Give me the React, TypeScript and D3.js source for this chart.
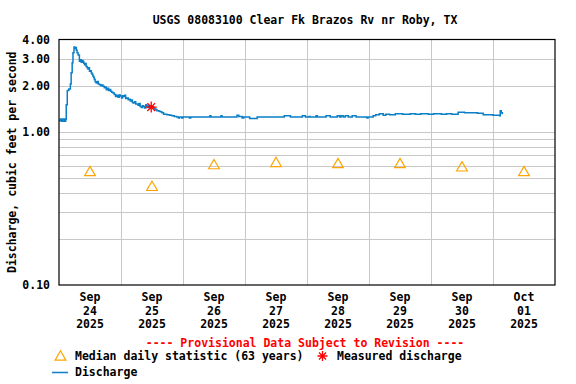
import React from "react";
import * as d3 from "d3";

const W = 576;
const H = 384;

// Discharge: hours since Sep 24 2025 00:00, and cfs values
const dischargeHours = [
  0, 0.5, 1.0, 1.6, 2.2, 2.6, 2.8, 3.2, 3.8, 4.4, 4.7, 5.1, 5.4, 5.8, 6.1, 6.3, 6.7, 7.0, 7.4, 7.9,
  8.3, 8.6, 9.0, 9.25, 9.6, 9.9, 10.2, 10.5, 10.9, 11.2, 11.5, 11.8, 12.2, 12.5, 12.8, 13.1, 13.4, 13.7, 14.0, 14.4,
  14.8, 15.2, 15.7, 16.2, 16.6, 17.0, 17.5, 17.9, 18.3, 18.8, 19.2, 19.6, 20.0, 20.4, 20.9, 21.4, 21.9, 22.4, 22.9, 23.3,
  23.7, 24.2, 24.6, 25.0, 25.4, 25.8, 26.3, 26.8, 27.2, 27.6, 28.0, 28.4, 28.8, 29.3, 29.7, 30.2, 30.6, 31.0, 31.4, 31.9,
  32.3, 32.7, 33.1, 33.6, 34.0, 34.4, 34.9, 35.3, 35.8, 36.2, 36.6, 37.0, 37.5, 37.9, 38.7, 39.2, 39.8, 40.5, 41.2, 41.8,
  42.8, 43.7, 44.6, 45.6, 46.2, 46.6, 47.5, 48.0, 49.0, 50.5, 51.0, 52, 56, 58.4, 58.8, 62.7, 63.1, 68.9, 69.6, 70.9,
  71.5, 73.8, 76.7, 80, 84, 87.2, 89.6, 94.2, 95.4, 96.8, 97.2, 99.5, 100, 103.4, 105, 107.7, 108.6, 109.2, 110, 110.8,
  112, 113.5, 115, 119.2, 119.6, 121.6, 122.6, 124, 125.5, 126.5, 128, 130.2, 133, 136, 138, 140, 143, 145, 148, 150,
  152, 154.5, 157, 160, 162, 164.2, 167, 168, 170.5, 170.8, 171.2, 171.6,
];
const dischargeValues = [
  1.18, 1.21, 1.17, 1.21, 1.17, 1.21, 1.5, 1.86, 1.9, 2.05, 2.43, 2.82, 3.28, 3.58, 3.5, 3.55, 3.4, 3.28, 3.17, 2.88,
  2.95, 2.84, 2.92, 2.87, 2.8, 2.74, 2.79, 2.67, 2.62, 2.57, 2.62, 2.48, 2.5, 2.42, 2.37, 2.31, 2.26, 2.19, 2.12, 2.08,
  2.13, 2.05, 2.03, 2.0, 2.02, 1.98, 1.94, 1.96, 1.88, 1.92, 1.86, 1.89, 1.84, 1.81, 1.79, 1.75, 1.7, 1.73, 1.68, 1.74,
  1.71, 1.66, 1.72, 1.7, 1.73, 1.65, 1.66, 1.62, 1.63, 1.59, 1.61, 1.55, 1.54, 1.57, 1.52, 1.52, 1.49, 1.53, 1.46, 1.44,
  1.48, 1.46, 1.43, 1.5, 1.48, 1.44, 1.47, 1.45, 1.44, 1.46, 1.43, 1.41, 1.39, 1.37, 1.36, 1.35, 1.33, 1.3, 1.3, 1.29,
  1.28, 1.27, 1.26, 1.25, 1.23, 1.25, 1.23, 1.25, 1.25, 1.23, 1.25, 1.25, 1.25, 1.27, 1.25, 1.27, 1.25, 1.28, 1.26, 1.23,
  1.25, 1.22, 1.25, 1.25, 1.25, 1.27, 1.25, 1.27, 1.25, 1.26, 1.25, 1.27, 1.25, 1.27, 1.25, 1.27, 1.25, 1.27, 1.25, 1.27,
  1.25, 1.27, 1.25, 1.23, 1.25, 1.27, 1.29, 1.31, 1.28, 1.3, 1.29, 1.31, 1.3, 1.31, 1.3, 1.31, 1.3, 1.31, 1.3, 1.31,
  1.3, 1.34, 1.33, 1.33, 1.32, 1.29, 1.29, 1.28, 1.27, 1.37, 1.33, 1.3,
];

// Median daily statistic, plotted at noon of each day
const medianHours = [12, 36, 60, 84, 108, 132, 156, 180];
const medianValues = [0.55, 0.44, 0.61, 0.63, 0.62, 0.62, 0.59, 0.55];

// Measured discharge
const measuredHours = [35.7];
const measuredValues = [1.45];

// Axis labels
const xMonths = ["Sep", "Sep", "Sep", "Sep", "Sep", "Sep", "Sep", "Oct"];
const xDays = ["24", "25", "26", "27", "28", "29", "30", "01"];
const xYears = ["2025", "2025", "2025", "2025", "2025", "2025", "2025", "2025"];
const yTickValues = [4, 3, 2, 1, 0.1];
const yTickLabels = ["4.00", "3.00", "2.00", "1.00", "0.10"];
const yGridValues = [0.2, 0.3, 0.4, 0.5, 0.6, 0.7, 0.8, 0.9, 1, 2, 3];
const dayBoundaries = [24, 48, 72, 96, 120, 144, 168];

const FONT = "'DejaVu Sans Mono', monospace";
const FS = 11.5;

export default function App() {
  const x0 = 59, x1 = 555, y0 = 39.5, y1 = 285;
  const x = d3.scaleLinear().domain([0, 192]).range([x0, x1]);
  const y = d3.scaleLog().domain([0.1, 4]).range([y1, y0]);

  const pts = dischargeHours.map((h, i) => [h, dischargeValues[i]] as [number, number]);
  const line = d3
    .line<[number, number]>()
    .x((d) => x(d[0]))
    .y((d) => y(d[1]))
    .curve(d3.curveStepAfter);

  const tri = d3.symbol().type(d3.symbolTriangle).size(50);

  const star = (cx: number, cy: number, r: number) => {
    const parts: string[] = [];
    for (let k = 0; k < 4; k++) {
      const a = (k * Math.PI) / 4;
      const dx = Math.cos(a) * r, dy = Math.sin(a) * r;
      parts.push(`M${cx - dx},${cy - dy}L${cx + dx},${cy + dy}`);
    }
    return parts.join("");
  };

  const textStyle = { fontFamily: FONT, fontWeight: "bold" as const, fontSize: FS };

  return (
    <svg width={W} height={H} style={{ position: "absolute", left: 0, top: 0, background: "#fff" }}>
      <rect x={0} y={0} width={W} height={H} fill="#fff" />
      <text x={305} y={24} textAnchor="middle" {...textStyle}>
        USGS 08083100 Clear Fk Brazos Rv nr Roby, TX
      </text>

      {/* grid */}
      {yGridValues.map((v) => (
        <line key={"hg" + v} x1={x0} x2={x1} y1={Math.round(y(v)) + 0.5} y2={Math.round(y(v)) + 0.5} stroke="#c8c8c8" strokeWidth={1} />
      ))}
      {dayBoundaries.map((h) => (
        <line key={"vg" + h} x1={Math.round(x(h)) + 0.5} x2={Math.round(x(h)) + 0.5} y1={y0} y2={y1} stroke="#c8c8c8" strokeWidth={1} />
      ))}

      {/* medians */}
      {medianHours.map((h, i) => (
        <path
          key={"m" + i}
          d={tri() as string}
          transform={`translate(${x(h)},${y(medianValues[i]) + 1})`}
          fill="none"
          stroke="#ffa500"
          strokeWidth={1.2}
        />
      ))}

      {/* discharge */}
      <path d={line(pts) as string} fill="none" stroke="#0a7fc8" strokeWidth={1.5} />

      {/* measured */}
      {measuredHours.map((h, i) => (
        <path key={"ms" + i} d={star(x(h), y(measuredValues[i]), 5.5)} stroke="#ff0000" strokeWidth={1.3} fill="none" />
      ))}

      {/* frame */}
      <rect x={x0} y={y0} width={x1 - x0} height={y1 - y0} fill="none" stroke="#000" strokeWidth={1.2} />

      {/* y labels */}
      {yTickValues.map((v, i) => (
        <text key={"yl" + i} x={50} y={y(v)} dy="0.35em" textAnchor="end" {...textStyle}>
          {yTickLabels[i]}
        </text>
      ))}
      <text
        transform={`translate(16,${(y0 + y1) / 2}) rotate(-90)`}
        textAnchor="middle"
        {...textStyle}
      >
        Discharge, cubic feet per second
      </text>

      {/* x labels */}
      {xMonths.map((m, i) => (
        <g key={"xl" + i} transform={`translate(${x(i * 24 + 12)},0)`}>
          <text y={301} textAnchor="middle" {...textStyle}>{m}</text>
          <text y={315} textAnchor="middle" {...textStyle}>{xDays[i]}</text>
          <text y={328} textAnchor="middle" {...textStyle}>{xYears[i]}</text>
        </g>
      ))}

      <text x={305} y={347} textAnchor="middle" {...textStyle} fill="#ff0000">
        ---- Provisional Data Subject to Revision ----
      </text>

      {/* legend */}
      <path d={tri() as string} transform="translate(60.5,357)" fill="none" stroke="#ffa500" strokeWidth={1.2} />
      <text x={75} y={360} {...textStyle}>Median daily statistic (63 years)</text>
      <path d={star(322.5, 356, 5)} stroke="#ff0000" strokeWidth={1.3} fill="none" />
      <text x={337} y={360} {...textStyle}>Measured discharge</text>
      <line x1={52} x2={68} y1={372.5} y2={372.5} stroke="#0a7fc8" strokeWidth={1.5} />
      <text x={75} y={376} {...textStyle}>Discharge</text>
    </svg>
  );
}
